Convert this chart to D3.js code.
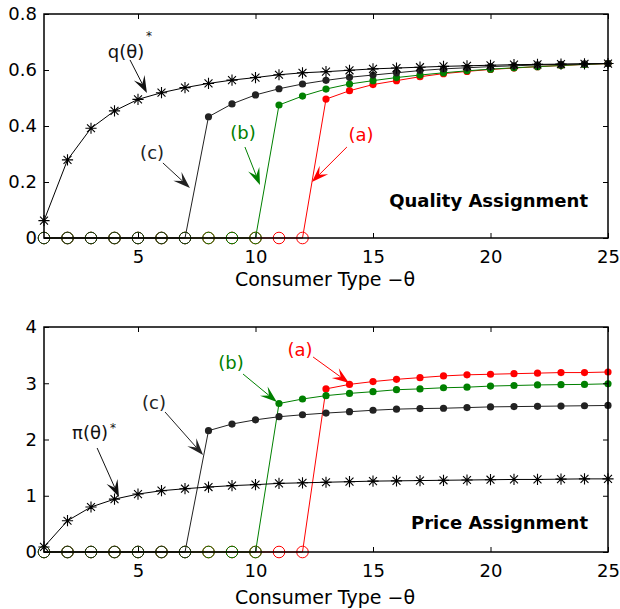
<!DOCTYPE html>
<html><head><meta charset="utf-8">
<script src="https://cdn.jsdelivr.net/npm/d3@7"></script>
<style>
body{margin:0;background:#fff}
text{font-family:"DejaVu Sans",sans-serif}
</style>
</head><body>
<svg id="chart" width="620" height="609"></svg>
<script>
// ---------- data ----------
const theta = [1,2,3,4,5,6,7,8,9,10,11,12,13,14,15,16,17,18,19,20,21,22,23,24,25];

const qStar = [0.062,0.279,0.392,0.454,0.495,0.519,0.537,0.552,0.564,0.573,0.583,0.590,0.594,0.599,0.604,0.607,0.610,0.613,0.615,0.617,0.619,0.620,0.621,0.622,0.623];
const qC = [0,0,0,0,0,0,0,0.433,0.479,0.511,0.533,0.550,0.563,0.574,0.582,0.590,0.598,0.604,0.608,0.612,0.615,0.618,0.620,0.622,0.623];
const qB = [0,0,0,0,0,0,0,0,0,0,0.475,0.507,0.532,0.550,0.562,0.573,0.582,0.590,0.597,0.603,0.608,0.612,0.616,0.620,0.623];
const qA = [0,0,0,0,0,0,0,0,0,0,0,0,0.496,0.526,0.548,0.562,0.576,0.587,0.595,0.602,0.607,0.612,0.616,0.620,0.623];

const piStar = [0.09,0.556,0.80,0.94,1.03,1.09,1.125,1.155,1.18,1.197,1.22,1.23,1.24,1.25,1.26,1.265,1.27,1.275,1.28,1.285,1.29,1.29,1.295,1.30,1.30];
const piC = [0,0,0,0,0,0,0,2.157,2.275,2.35,2.405,2.44,2.47,2.494,2.52,2.54,2.55,2.556,2.567,2.58,2.585,2.59,2.595,2.60,2.605];
const piB = [0,0,0,0,0,0,0,0,0,0,2.64,2.72,2.78,2.82,2.85,2.885,2.90,2.92,2.93,2.95,2.96,2.97,2.975,2.98,2.99];
const piA = [0,0,0,0,0,0,0,0,0,0,0,0,2.90,2.98,3.03,3.07,3.10,3.13,3.15,3.16,3.17,3.18,3.19,3.19,3.20];

const xTicks = [5,10,15,20,25];
const qTicks = [0,0.2,0.4,0.6,0.8];
const piTicks = [0,1,2,3,4];
const xLabel = "Consumer Type \u2212\u03b8";
const titles = ["Quality Assignment","Price Assignment"];

// annotations (data coordinates)
const qNotes = [
  {label:"q(\u03b8)", color:"#111", text:[4.49,0.664], from:[4.66,0.636], to:[5.38,0.518], sup:[5.47,0.732]},
  {label:"(c)", color:"#222", text:[5.6,0.304], from:[6.06,0.268], to:[7.21,0.179]},
  {label:"(b)", color:"#008000", text:[9.47,0.375], from:[9.55,0.325], to:[10.19,0.189]},
  {label:"(a)", color:"#ff0000", text:[14.49,0.368], from:[13.89,0.325], to:[12.40,0.20]}
];
const piNotes = [
  {label:"\u03c0(\u03b8)", color:"#111", text:[2.96,2.116], from:[3.26,1.849], to:[4.19,0.978], sup:[3.94,2.258]},
  {label:"(c)", color:"#222", text:[5.68,2.649], from:[6.15,2.489], to:[7.77,1.724]},
  {label:"(b)", color:"#008000", text:[8.96,3.36], from:[9.47,3.164], to:[10.91,2.667]},
  {label:"(a)", color:"#ff0000", text:[11.89,3.59], from:[12.45,3.467], to:[13.98,3.004]}
];

// ---------- drawing ----------
const svg = d3.select("#chart");
const x = d3.scaleLinear().domain([1,25]).range([44,608]);
const colors = {a:"#ff0000", b:"#008000", c:"#222222"};

function fmtTick(d){ return d===0 ? "0" : (Number.isInteger(d) ? String(d) : d3.format(".1f")(d)); }

function starPath(r){
  const a = r*0.7071;
  return `M0,${-r}L0,${r}M${-r},0L${r},0M${-a},${-a}L${a},${a}M${-a},${a}L${a},${-a}`;
}

function drawPanel(cfg){
  const y = d3.scaleLinear().domain(cfg.domain).range(cfg.range);
  const g = svg.append("g");
  const [y0,y1] = cfg.range;

  const sets = [
    {vals:cfg.a, color:colors.a, zOp:1},
    {vals:cfg.b, color:colors.b, zOp:1},
    {vals:cfg.c, color:colors.c, zOp:0.7}
  ];
  const line = d3.line().x((d,i)=>x(theta[i])).y(d=>y(d));
  sets.forEach(s=>{
    g.append("path").attr("d", line(s.vals)).attr("fill","none")
      .attr("stroke", s.color).attr("stroke-width",1);
  });
  sets.forEach(s=>{
    const pts = s.vals.map((v,i)=>({v, t:theta[i]}));
    g.selectAll(null).data(pts.filter(p=>p.v===0)).join("circle")
      .attr("cx",p=>x(p.t)).attr("cy",p=>y(p.v)).attr("r",5.8)
      .attr("fill","none").attr("stroke",s.color).attr("stroke-opacity",s.zOp).attr("stroke-width",1);
    g.selectAll(null).data(pts.filter(p=>p.v!==0)).join("circle")
      .attr("cx",p=>x(p.t)).attr("cy",p=>y(p.v)).attr("r",3.6)
      .attr("fill",s.color);
  });
  g.append("path").attr("d", line(cfg.star)).attr("fill","none").attr("stroke","#000").attr("stroke-width",1);
  g.selectAll(null).data(cfg.star.map((v,i)=>({v,t:theta[i]}))).join("path")
    .attr("d", starPath(5.6))
    .attr("transform", p=>`translate(${x(p.t)},${y(p.v)})`)
    .attr("stroke","#000").attr("stroke-width",1.1).attr("fill","none");

  const axB = d3.axisBottom(x).tickValues(xTicks).tickSize(-5).tickPadding(12).tickFormat(d3.format("d"));
  const axT = d3.axisTop(x).tickValues(xTicks).tickSize(-5).tickFormat("");
  const axL = d3.axisLeft(y).tickValues(cfg.ticks).tickSize(-5).tickPadding(7).tickFormat(fmtTick);
  const axR = d3.axisRight(y).tickValues(cfg.ticks).tickSize(-5).tickFormat("");
  const gb = g.append("g").attr("transform",`translate(0,${y0})`).call(axB);
  const gt = g.append("g").attr("transform",`translate(0,${y1})`).call(axT);
  const gl = g.append("g").attr("transform",`translate(44,0)`).call(axL);
  const gr = g.append("g").attr("transform",`translate(608,0)`).call(axR);
  [gb,gt,gl,gr].forEach(a=>{
    a.select(".domain").remove();
    a.selectAll(".tick line").attr("stroke","#000").attr("stroke-width",1);
    a.selectAll("text").attr("font-size",18).attr("font-family","DejaVu Sans").attr("fill","#000");
  });
  g.append("rect").attr("x",44).attr("y",y1).attr("width",564).attr("height",y0-y1)
    .attr("fill","none").attr("stroke","#000").attr("stroke-width",1.5);

  g.append("text").attr("x",325).attr("y",cfg.labelY).attr("text-anchor","middle")
    .attr("font-size",19).text(xLabel);

  g.append("text").attr("x",588).attr("y",cfg.titleY).attr("text-anchor","end")
    .attr("font-size",18).attr("font-weight","bold").text(cfg.title);

  cfg.notes.forEach(n=>{
    const [fx,fy] = [x(n.from[0]), y(n.from[1])];
    const [tx,ty] = [x(n.to[0]), y(n.to[1])];
    const ang = Math.atan2(ty-fy, tx-fx);
    const L = 17, W = 6, N = 0.6*L;
    const ca = Math.cos(ang), sa = Math.sin(ang);
    const P = (u,v)=>[tx + u*ca - v*sa, ty + u*sa + v*ca];
    const notch = P(-N,0);
    g.append("line").attr("x1",fx).attr("y1",fy).attr("x2",notch[0]).attr("y2",notch[1])
      .attr("stroke",n.color).attr("stroke-width",1);
    const head = [P(0,0),P(-L,-W),notch,P(-L,W)];
    g.append("path").attr("d","M"+head.map(p=>p.join(",")).join("L")+"Z").attr("fill",n.color);
    g.append("text").attr("x",x(n.text[0])).attr("y",y(n.text[1])).attr("dy","0.35em")
      .attr("text-anchor","middle").attr("font-size",18).attr("fill",n.color).text(n.label);
    if(n.sup){
      g.append("text").attr("x",x(n.sup[0])).attr("y",y(n.sup[1])+7).attr("text-anchor","middle")
        .attr("font-size",12).attr("fill",n.color).text("*");
    }
  });
}

drawPanel({domain:[0,0.8], range:[238,14], ticks:qTicks, a:qA, b:qB, c:qC, star:qStar,
  title:titles[0], titleY:207, labelY:286, notes:qNotes});
drawPanel({domain:[0,4], range:[552,327], ticks:piTicks, a:piA, b:piB, c:piC, star:piStar,
  title:titles[1], titleY:529, labelY:604, notes:piNotes});
</script>
</body></html>
